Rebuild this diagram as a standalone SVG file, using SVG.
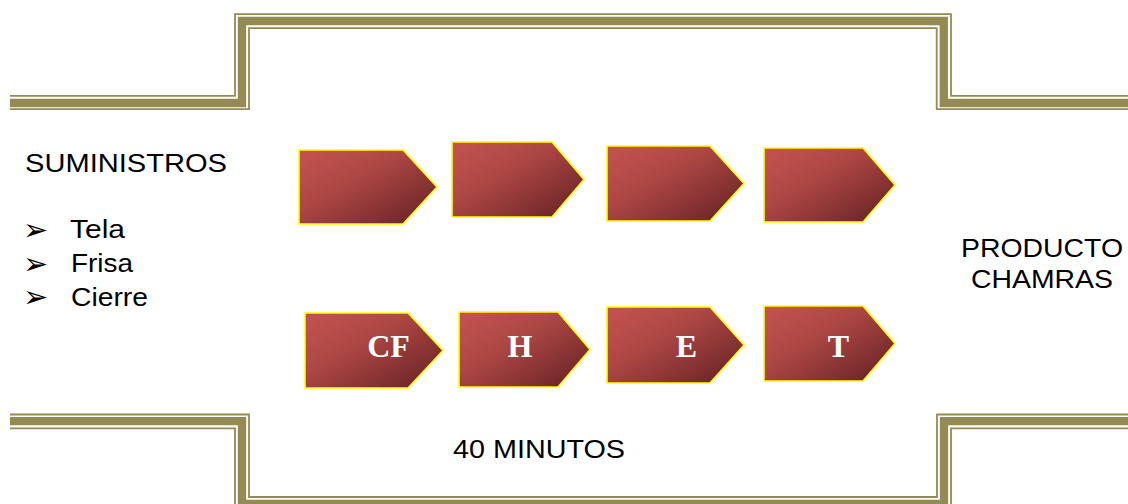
<svg xmlns="http://www.w3.org/2000/svg" width="1128" height="504" viewBox="0 0 1128 504">
  <defs>
    <linearGradient id="redGrad" x1="0.05" y1="0.1" x2="0.95" y2="0.95">
      <stop offset="0" stop-color="#C0514E"/>
      <stop offset="0.35" stop-color="#AE4845"/>
      <stop offset="0.7" stop-color="#8A3434"/>
      <stop offset="1" stop-color="#652226"/>
    </linearGradient>
  </defs>
  <style>
    .frame { fill: none; stroke: #948A54; stroke-linejoin: miter; stroke-linecap: butt; }
    .thick { stroke-width: 8.3; }
    .thin { stroke-width: 1.8; }
    .arrow { fill: url(#redGrad); stroke: #FFFF00; stroke-width: 1.6; stroke-linejoin: miter; }
    .lbl { font-family: "Liberation Serif", "DejaVu Serif", serif; font-weight: bold; font-size: 32px; fill: #FFFFFF; text-anchor: middle; }
    .txt { font-family: "Liberation Sans", Arial, sans-serif; font-size: 26px; fill: #000000; }
    .bul { font-family: "DejaVu Sans", sans-serif; font-size: 30px; fill: #000000; }
  </style>
  <rect width="1128" height="504" fill="#FFFFFF"/>

  <g id="frame">
    <path class="frame thin" d="M10 95.8 H235 V14.2 H951 V95.8 H1128"/>
    <path class="frame thick" d="M10 103 H242 V21 H943.8 V103 H1128"/>
    <path class="frame thin" d="M10 109.2 H249 V28.2 H936.7 V109.2 H1128"/>
    <path class="frame thin" d="M10 414.5 H249 V497 H937 V414.5 H1128"/>
    <path class="frame thick" d="M10 421.2 H242 V504 H944 V421.2 H1128"/>
    <path class="frame thin" d="M10 428.3 H235 V520 H951 V428.3 H1128"/>
  </g>

  <g id="suministros">
    <text class="txt" x="25" y="172" textLength="202" lengthAdjust="spacingAndGlyphs">SUMINISTROS</text>
    <text class="bul" x="23" y="240">➢</text>
    <text class="txt" x="70" y="238.3" textLength="55" lengthAdjust="spacingAndGlyphs">Tela</text>
    <text class="bul" x="23" y="273.5">➢</text>
    <text class="txt" x="71" y="271.7" textLength="62" lengthAdjust="spacingAndGlyphs">Frisa</text>
    <text class="bul" x="23" y="307">➢</text>
    <text class="txt" x="71" y="305.5" textLength="77" lengthAdjust="spacingAndGlyphs">Cierre</text>
  </g>

  <g id="producto">
    <text class="txt" x="961" y="256.7" textLength="162" lengthAdjust="spacingAndGlyphs">PRODUCTO</text>
    <text class="txt" x="971" y="288.3" textLength="142" lengthAdjust="spacingAndGlyphs">CHAMRAS</text>
  </g>

  <g id="tiempo">
    <text class="txt" x="453" y="457.7" textLength="172" lengthAdjust="spacingAndGlyphs">40 MINUTOS</text>
  </g>

  <g id="paso-1"><polygon class="arrow" points="299,150 403,150 437,187 403,224 299,224"/></g>
  <g id="paso-2"><polygon class="arrow" points="452,142 552,142 584,179.5 552,217 452,217"/></g>
  <g id="paso-3"><polygon class="arrow" points="607,146 710,146 744,183.5 710,221 607,221"/></g>
  <g id="paso-4"><polygon class="arrow" points="764,148 863,148 895,185 863,222 764,222"/></g>

  <g id="paso-cf">
    <polygon class="arrow" points="305,313 408,313 443,350.5 408,388 305,388"/>
    <text class="lbl" x="388.5" y="357">CF</text>
  </g>
  <g id="paso-h">
    <polygon class="arrow" points="459,312 558,312 590,349.5 558,387 459,387"/>
    <text class="lbl" x="520" y="357">H</text>
  </g>
  <g id="paso-e">
    <polygon class="arrow" points="607,307 710,307 744,345 710,383 607,383"/>
    <text class="lbl" x="686.5" y="357">E</text>
  </g>
  <g id="paso-t">
    <polygon class="arrow" points="764,306 863,306 895,343.5 863,381 764,381"/>
    <text class="lbl" x="838.5" y="357">T</text>
  </g>

  <g id="connectors"></g>
</svg>
